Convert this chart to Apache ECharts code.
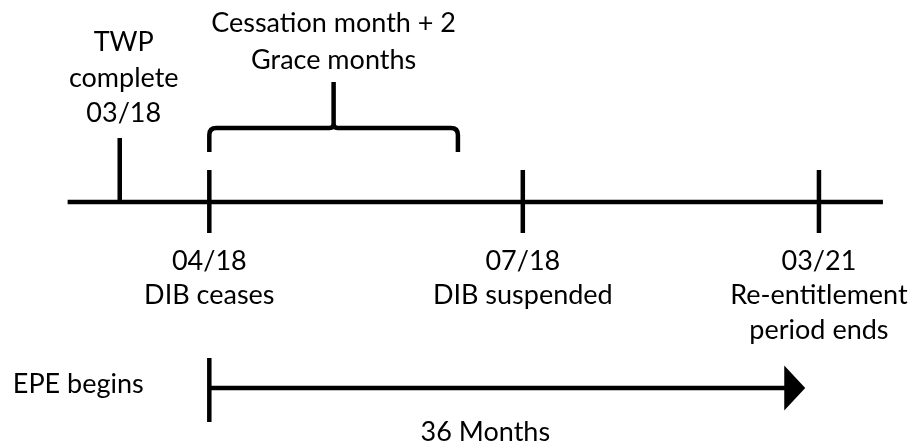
<!DOCTYPE html>
<html>
<head>
<meta charset="utf-8">
<script src="https://cdn.jsdelivr.net/npm/echarts@6/dist/echarts.min.js"></script>
<style>
    html, body { margin: 0; padding: 0; background: #fff; }
    #chart { width: 914px; height: 442px; }
</style>
</head>
<body>
<div id="chart"></div>
<script>
// timeline data (schematic positions along the line, 0-100)
const eventDates = ['03/18', '04/18', '07/18', '03/21'];
const eventNotes = ['TWP\ncomplete', 'DIB ceases', 'DIB suspended', 'Re-entitlement\nperiod ends'];
const eventPos = [13.1, 22.9, 57.2, 89.6];
const timelineSpan = [7.4, 96.6];
const graceSpan = [22.9, 50.1];
const graceLabel = 'Cessation month + 2\nGrace months';
const epeSpan = [22.9, 88.1];
const epeLabel = 'EPE begins';
const epeLength = '36 Months';

const FONT = '27px Lato, "Open Sans", sans-serif';
const INK = '#000';
const LW = 4.5;
// vertical levels (y axis runs 0..442 top to bottom)
const Y_LINE = 202, Y_ARROW = 388;

const myChart = echarts.init(document.getElementById('chart'));

const option = {
    animation: false,
    backgroundColor: '#fff',
    grid: { left: 0, right: 0, top: 0, bottom: 0 },
    xAxis: { type: 'value', min: 0, max: 100, show: false },
    yAxis: { type: 'value', min: 0, max: 442, inverse: true, show: false },
    series: [
        {
            // main time line
            type: 'line',
            silent: true,
            symbol: 'none',
            lineStyle: { color: INK, width: LW },
            data: timelineSpan.map(x => [x, Y_LINE])
        },
        {
            // ticks + labels
            type: 'custom',
            silent: true,
            data: eventPos.map((x, i) => [x, Y_LINE, i]),
            renderItem: function (params, api) {
                const i = api.value(2);
                const p = api.coord([api.value(0), Y_LINE]);
                const first = i === 0;
                const top = first ? api.coord([0, 138])[1] : api.coord([0, 170])[1];
                const bottom = first ? p[1] : api.coord([0, 233])[1];
                const text = first
                    ? eventNotes[i] + '\n' + eventDates[i]
                    : eventDates[i] + '\n' + eventNotes[i];
                const ty = first ? api.coord([0, 25])[1] : api.coord([0, 244])[1];
                return {
                    type: 'group',
                    children: [
                        {
                            type: 'line',
                            shape: { x1: p[0], y1: top, x2: p[0], y2: bottom },
                            style: { stroke: INK, lineWidth: LW }
                        },
                        {
                            type: 'text',
                            style: {
                                text: text,
                                x: p[0] + (first ? 4 : 0),
                                y: ty,
                                font: FONT,
                                fill: INK,
                                textAlign: 'center',
                                textVerticalAlign: 'top',
                                lineHeight: first ? 35.5 : 34.5
                            }
                        }
                    ]
                };
            }
        },
        {
            // grace period brace
            type: 'custom',
            silent: true,
            data: [[graceSpan[0], graceSpan[1]]],
            renderItem: function (params, api) {
                const x1 = api.coord([api.value(0), 0])[0];
                const x2 = api.coord([api.value(1), 0])[0];
                const xc = (x1 + x2) / 2;
                const yEnd = api.coord([0, 152])[1];
                const yBar = api.coord([0, 128])[1];
                const yStem = api.coord([0, 82])[1];
                const r = 7, rc = 4;
                const d = 'M' + x1 + ' ' + yEnd + ' L' + x1 + ' ' + (yBar + r) +
                    ' Q' + x1 + ' ' + yBar + ' ' + (x1 + r) + ' ' + yBar +
                    ' L' + (xc - rc) + ' ' + yBar +
                    ' Q' + xc + ' ' + yBar + ' ' + xc + ' ' + (yBar - rc) +
                    ' L' + xc + ' ' + yStem +
                    ' M' + xc + ' ' + (yBar - rc) +
                    ' Q' + xc + ' ' + yBar + ' ' + (xc + rc) + ' ' + yBar +
                    ' L' + (x2 - r) + ' ' + yBar +
                    ' Q' + x2 + ' ' + yBar + ' ' + x2 + ' ' + (yBar + r) +
                    ' L' + x2 + ' ' + yEnd;
                return {
                    type: 'group',
                    children: [
                        {
                            type: 'path',
                            shape: { pathData: d },
                            style: { stroke: INK, lineWidth: LW, fill: null }
                        },
                        {
                            type: 'text',
                            style: {
                                text: graceLabel,
                                x: xc,
                                y: api.coord([0, 5])[1],
                                font: FONT,
                                fill: INK,
                                textAlign: 'center',
                                textVerticalAlign: 'top',
                                lineHeight: 37
                            }
                        }
                    ]
                };
            }
        },
        {
            // EPE arrow
            type: 'custom',
            silent: true,
            data: [[epeSpan[0], epeSpan[1]]],
            renderItem: function (params, api) {
                const s = api.coord([api.value(0), Y_ARROW]);
                const e = api.coord([api.value(1), Y_ARROW]);
                const headL = 21, headH = 22.5;
                const yTop = api.coord([0, 358])[1];
                const yBot = api.coord([0, 422])[1];
                return {
                    type: 'group',
                    children: [
                        {
                            type: 'line',
                            shape: { x1: s[0], y1: s[1], x2: e[0] - headL + 1, y2: e[1] },
                            style: { stroke: INK, lineWidth: LW }
                        },
                        {
                            type: 'line',
                            shape: { x1: s[0], y1: yTop, x2: s[0], y2: yBot },
                            style: { stroke: INK, lineWidth: LW }
                        },
                        {
                            type: 'polygon',
                            shape: { points: [[e[0] - headL, e[1] - headH], [e[0], e[1]], [e[0] - headL, e[1] + headH]] },
                            style: { fill: INK }
                        },
                        {
                            type: 'text',
                            style: {
                                text: epeLabel,
                                x: api.coord([1.4, 0])[0],
                                y: api.coord([0, 384])[1],
                                font: FONT,
                                fill: INK,
                                textAlign: 'left',
                                textVerticalAlign: 'middle'
                            }
                        },
                        {
                            type: 'text',
                            style: {
                                text: epeLength,
                                x: api.coord([53.1, 0])[0],
                                y: api.coord([0, 432])[1],
                                font: FONT,
                                fill: INK,
                                textAlign: 'center',
                                textVerticalAlign: 'middle'
                            }
                        }
                    ]
                };
            }
        }
    ]
};

myChart.setOption(option);
</script>
</body>
</html>
